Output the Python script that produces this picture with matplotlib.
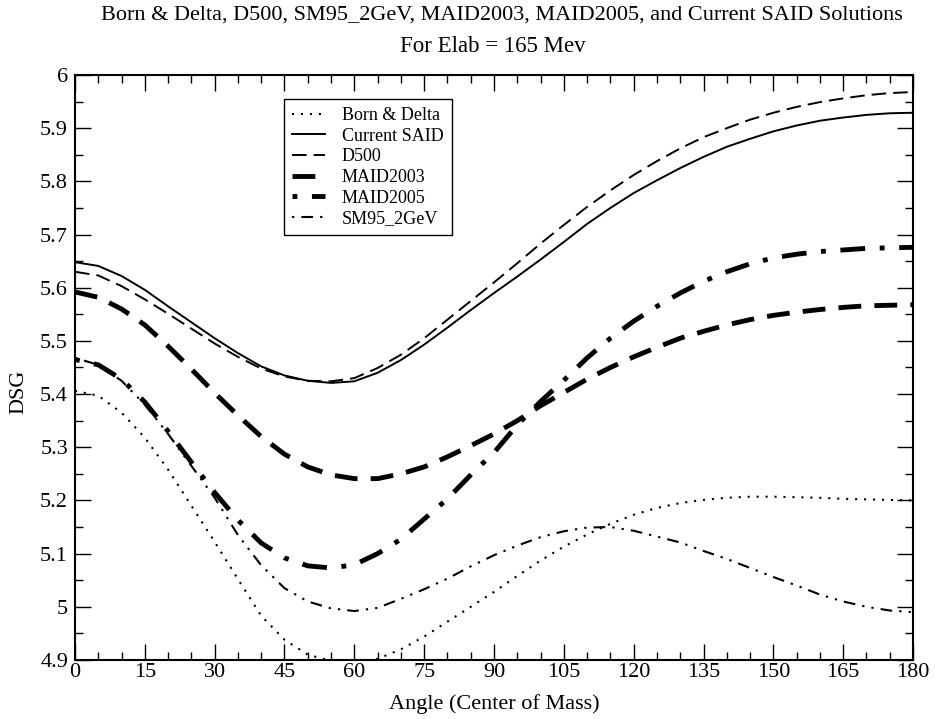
import matplotlib
matplotlib.use("Agg")
import matplotlib.pyplot as plt
from matplotlib.ticker import MultipleLocator

plt.rcParams['font.family'] = ['Liberation Serif', 'DejaVu Serif']

# angles in degrees (centre of mass), 5 degree steps
angle = list(range(0, 181, 5))

born_delta = [5.406, 5.397, 5.365, 5.318, 5.258, 5.190, 5.122, 5.052, 4.983, 4.938,
              4.910, 4.898, 4.896, 4.902, 4.920, 4.944, 4.972, 5.000, 5.028, 5.058,
              5.087, 5.113, 5.136, 5.156, 5.173, 5.186, 5.195, 5.201, 5.205, 5.207,
              5.207, 5.206, 5.205, 5.203, 5.202, 5.201, 5.200]

current_said = [5.648, 5.641, 5.622, 5.596, 5.565, 5.535, 5.505, 5.477, 5.452, 5.435,
                5.425, 5.421, 5.424, 5.440, 5.464, 5.493, 5.525, 5.558, 5.590, 5.621,
                5.653, 5.686, 5.720, 5.750, 5.778, 5.802, 5.825, 5.846, 5.865, 5.880,
                5.894, 5.905, 5.914, 5.920, 5.925, 5.928, 5.929]

d500 = [5.630, 5.623, 5.603, 5.578, 5.551, 5.523, 5.495, 5.470, 5.448, 5.433,
        5.425, 5.424, 5.430, 5.449, 5.474, 5.505, 5.540, 5.575, 5.610, 5.646,
        5.683, 5.718, 5.752, 5.783, 5.812, 5.838, 5.862, 5.883, 5.900, 5.916,
        5.929, 5.940, 5.949, 5.956, 5.962, 5.966, 5.968]

maid2003 = [5.592, 5.582, 5.560, 5.530, 5.490, 5.447, 5.402, 5.360, 5.320, 5.287,
            5.263, 5.248, 5.241, 5.241, 5.250, 5.263, 5.282, 5.303, 5.325, 5.350,
            5.378, 5.403, 5.428, 5.450, 5.470, 5.488, 5.505, 5.518, 5.530, 5.540,
            5.548, 5.554, 5.559, 5.563, 5.566, 5.567, 5.568]

maid2005 = [5.465, 5.455, 5.428, 5.385, 5.330, 5.272, 5.215, 5.163, 5.120, 5.092,
            5.077, 5.073, 5.079, 5.100, 5.127, 5.165, 5.203, 5.248, 5.290, 5.342,
            5.386, 5.426, 5.468, 5.505, 5.537, 5.565, 5.590, 5.612, 5.630, 5.645,
            5.656, 5.663, 5.668, 5.671, 5.674, 5.675, 5.676]

sm95_2gev = [5.468, 5.455, 5.425, 5.380, 5.325, 5.265, 5.205, 5.135, 5.078, 5.035,
             5.010, 4.997, 4.992, 4.998, 5.015, 5.033, 5.053, 5.076, 5.097, 5.115,
             5.131, 5.142, 5.149, 5.150, 5.143, 5.132, 5.121, 5.105, 5.090, 5.073,
             5.056, 5.040, 5.023, 5.010, 5.000, 4.993, 4.990]

xticks = list(range(0, 181, 15))
yticks = [4.9, 5.0, 5.1, 5.2, 5.3, 5.4, 5.5, 5.6, 5.7, 5.8, 5.9, 6.0]
ylabels = ['4.9', '5', '5.1', '5.2', '5.3', '5.4', '5.5', '5.6', '5.7', '5.8', '5.9', '6']

fig = plt.figure(figsize=(9.35, 7.19), dpi=100)
ax = fig.add_axes([0.0802, 0.0821, 0.8963, 0.8136])

ax.plot(angle, born_delta, color='black', lw=1.5, ls=(0, (1, 3.3)), label='Born & Delta')
ax.plot(angle, current_said, color='black', lw=1.4, ls='-', label='Current SAID')
ax.plot(angle, d500, color='black', lw=1.4, ls=(0, (7.5, 3.6)), label='D500')
ax.plot(angle, maid2003, color='black', lw=3.5, ls=(0, (4.7, 2.7)), label='MAID2003')
ax.plot(angle, maid2005, color='black', lw=3.5, ls=(0, (1, 3, 5.1, 3)), label='MAID2005')
ax.plot(angle, sm95_2gev, color='black', lw=1.5,
        ls=(0, (1.1, 3.4, 5.6, 3.4, 1.1, 3.4)), label='SM95_2GeV')

ax.set_xlim(0, 180)
ax.set_ylim(4.9, 6.0)
ax.set_xticks(xticks)
ax.set_xticklabels([str(t) for t in xticks])
ax.set_yticks(yticks)
ax.set_yticklabels(ylabels)
ax.xaxis.set_minor_locator(MultipleLocator(5))
ax.yaxis.set_minor_locator(MultipleLocator(0.05))
ax.tick_params(which='both', direction='in', top=True, right=True, width=1.0,
               labelsize=16, colors='black')
ax.tick_params(which='major', length=11.5)
ax.tick_params(which='minor', length=5.8)
ax.tick_params(axis='y', pad=5)
ax.tick_params(axis='x', pad=2)
for s in ax.spines.values():
    s.set_linewidth(1.5)

ax.set_xlabel('Angle (Center of Mass)', fontsize=16, labelpad=9)
ax.set_ylabel('DSG', fontsize=16)
ax.yaxis.set_label_coords(-0.056, 0.458)

fig.text(0.537, 1 - 15 / 719, 'Born & Delta, D500, SM95_2GeV, MAID2003, MAID2005, and Current SAID Solutions',
         ha='center', va='center', fontsize=16)
fig.text(0.527, 1 - 46 / 719, 'For Elab = 165 Mev', ha='center', va='center', fontsize=16.5)

leg = ax.legend(loc='upper left', bbox_to_anchor=(0.249, 0.959), fontsize=13,
                frameon=True, fancybox=False, edgecolor='black', framealpha=1,
                handlelength=1.83, handletextpad=0.94, labelspacing=0.2,
                borderpad=0.45, borderaxespad=0)
leg.get_frame().set_linewidth(1.0)

fig.savefig('out.png', dpi=100)
